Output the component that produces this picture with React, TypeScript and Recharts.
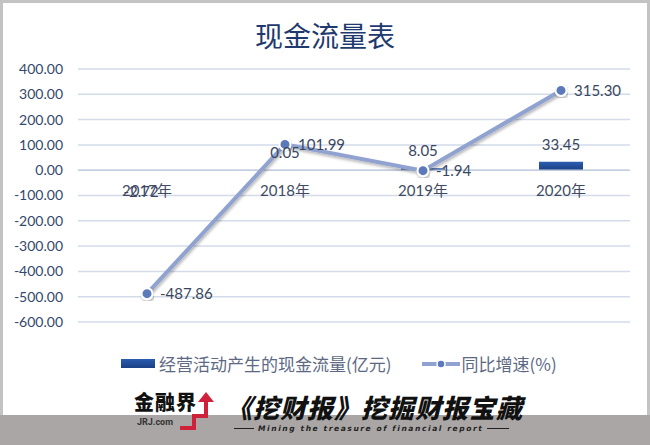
import { ComposedChart, Bar, Line, XAxis, YAxis, CartesianGrid, ReferenceLine, LabelList, Cell } from 'recharts';

const years = ['2017年', '2018年', '2019年', '2020年'];
const cashFlow = [-2.72, 0.05, 8.05, 33.45]; // 经营活动产生的现金流量(亿元)
const growth = [-487.86, 101.99, -1.94, 315.3]; // 同比增速(%)
const yTicks = [400, 300, 200, 100, 0, -100, -200, -300, -400, -500, -600];

const data = years.map((year, i) => ({ year, cashFlow: cashFlow[i], growth: growth[i], zero: 0 }));

const numFont = 'Lato, "Noto Sans CJK SC", sans-serif';
const cjkFont = '"Noto Sans CJK SC", sans-serif';
const labelColor = '#3a4660';

const BarLabel = (props: any) => {
  const vb = props.viewBox ?? props;
  const { x, y, width, height } = vb;
  const value = Number(props.value);
  const top = Math.min(y, y + height);
  const bottom = Math.max(y, y + height);
  // negative values sit under the zero line, like the original
  const neg = value < 0;
  const ty = neg ? bottom + 26 : top - 12;
  return (
    <text x={x + width / 2 - (neg ? 6 : 0)} y={ty} textAnchor="middle" fill={labelColor} fontSize={15} fontFamily={numFont}>
      {value.toFixed(2)}
    </text>
  );
};

function Legend() {
  return (
    <div style={{ position: 'absolute', top: 351, left: 121, display: 'flex', alignItems: 'center', fontFamily: cjkFont, fontSize: 17, color: '#5d6984' }}>
      <span style={{ width: 34, height: 9, background: 'linear-gradient(#2a5cae, #1a4085)', display: 'inline-block', marginRight: 4 }} />
      <span>经营活动产生的现金流量(亿元)</span>
      <svg width={38} height={12} style={{ marginLeft: 30, marginRight: 2 }}>
        <line x1={0} y1={6} x2={38} y2={6} stroke="#8fa2d0" strokeWidth={4} />
        <circle cx={19} cy={6} r={4} fill="#5b79bb" stroke="#fff" strokeWidth={1.5} />
      </svg>
      <span>同比增速(%)</span>
    </div>
  );
}

function Banner() {
  return (
    <div style={{ position: 'absolute', left: 0, top: 0, width: 650, height: 445, pointerEvents: 'none' }}>
      <div style={{ position: 'absolute', left: 134, top: 390, fontFamily: cjkFont, fontWeight: 900, fontSize: 20, letterSpacing: 1, color: '#111', lineHeight: '24px' }}>
        金融界
      </div>
      <div style={{ position: 'absolute', left: 137, top: 417, fontFamily: 'Roboto, sans-serif', fontWeight: 700, fontSize: 9, color: '#333', lineHeight: '10px' }}>
        JRJ.com
      </div>
      <svg width={40} height={42} style={{ position: 'absolute', left: 180, top: 390 }}>
        <polyline points="0,38 14,38 14,26 26,26 26,10" fill="none" stroke="#d0213a" strokeWidth={4} />
        <polygon points="18,12 26,2 34,12" fill="#d0213a" />
      </svg>
      <div style={{ position: 'absolute', left: 226, top: 391, fontFamily: cjkFont, fontWeight: 900, fontSize: 26, letterSpacing: 1, color: '#111', lineHeight: '32px', fontStyle: 'italic' }}>
        《挖财报》挖掘财报宝藏
      </div>
      <div style={{ position: 'absolute', left: 234, top: 424, width: 288, display: 'flex', alignItems: 'center', fontFamily: '"DejaVu Sans", sans-serif', fontStyle: 'italic', fontWeight: 700, fontSize: 7.5, letterSpacing: 1.6, color: '#222' }}>
        <span style={{ width: 20, height: 1, background: '#222', marginRight: 4 }} />
        <span>Mining the treasure of financial report</span>
        <span style={{ width: 22, height: 1, background: '#222', marginLeft: 4 }} />
      </div>
    </div>
  );
}

export default function App() {
  return (
    <div style={{ position: 'relative', width: 650, height: 445, background: '#a9a6a5', overflow: 'hidden' }}>
      <style>{'body{margin:0}'}</style>
      <div style={{ position: 'absolute', left: 0, top: 0, width: 644, height: 412, background: '#fff', borderTop: '3px solid #c3c3c3', borderLeft: '3px solid #c3c3c3', borderRight: '3px solid #c3c3c3' }} />
      <div style={{ position: 'absolute', top: 18, left: 0, width: 650, textAlign: 'center', fontFamily: cjkFont, fontSize: 28, lineHeight: '34px', color: '#1f3a6e' }}>
        现金流量表
      </div>
      <div style={{ position: 'absolute', left: 0, top: 0 }}>
        <ComposedChart width={650} height={385} data={data} margin={{ top: 69, right: 20, left: 8, bottom: 63 }}>
          <defs>
            <linearGradient id="barGrad" x1="0" y1="0" x2="0" y2="1">
              <stop offset="0%" stopColor="#2b5db0" />
              <stop offset="100%" stopColor="#1a4085" />
            </linearGradient>
            <filter id="lineShadow" x="-10%" y="-10%" width="120%" height="120%">
              <feDropShadow dx="1" dy="2" stdDeviation="1.5" floodColor="#000" floodOpacity="0.3" />
            </filter>
          </defs>
          <CartesianGrid vertical={false} stroke="#d3dbea" strokeWidth={1.5} />
          <XAxis dataKey="year" hide />
          <YAxis
            domain={[-600, 400]}
            ticks={yTicks}
            interval={0}
            width={70}
            axisLine={false}
            tickLine={false}
            tickMargin={9}
            tick={{ fill: '#34476e', fontSize: 14, fontFamily: numFont }}
            tickFormatter={(v) => Number(v).toFixed(2)}
          />
          <ReferenceLine y={0} stroke="#c5cee0" strokeWidth={1.5} />
          <Bar dataKey="cashFlow" barSize={44} isAnimationActive={false}>
            {data.map((d, i) => (
              <Cell key={`cell-${i}`} fill={d.cashFlow < 0 ? '#dcdfe4' : 'url(#barGrad)'} />
            ))}
            <LabelList dataKey="cashFlow" content={BarLabel} />
          </Bar>
          <Line dataKey="zero" stroke="none" dot={false} activeDot={false} isAnimationActive={false}>
            <LabelList dataKey="year" position="bottom" offset={15} fill="#404b63" fontSize={15} fontFamily={numFont} />
          </Line>
          <Line
            dataKey="growth"
            stroke="#8fa2d0"
            strokeWidth={4}
            filter="url(#lineShadow)"
            dot={{ r: 5.5, fill: '#5b79bb', stroke: '#fff', strokeWidth: 2 }}
            isAnimationActive={false}
          >
            <LabelList
              dataKey="growth"
              position="right"
              offset={13}
              fill={labelColor}
              fontSize={15}
              fontFamily={numFont}
              formatter={(v: any) => Number(v).toFixed(2)}
            />
          </Line>
        </ComposedChart>
      </div>
      <Legend />
      <Banner />
    </div>
  );
}
